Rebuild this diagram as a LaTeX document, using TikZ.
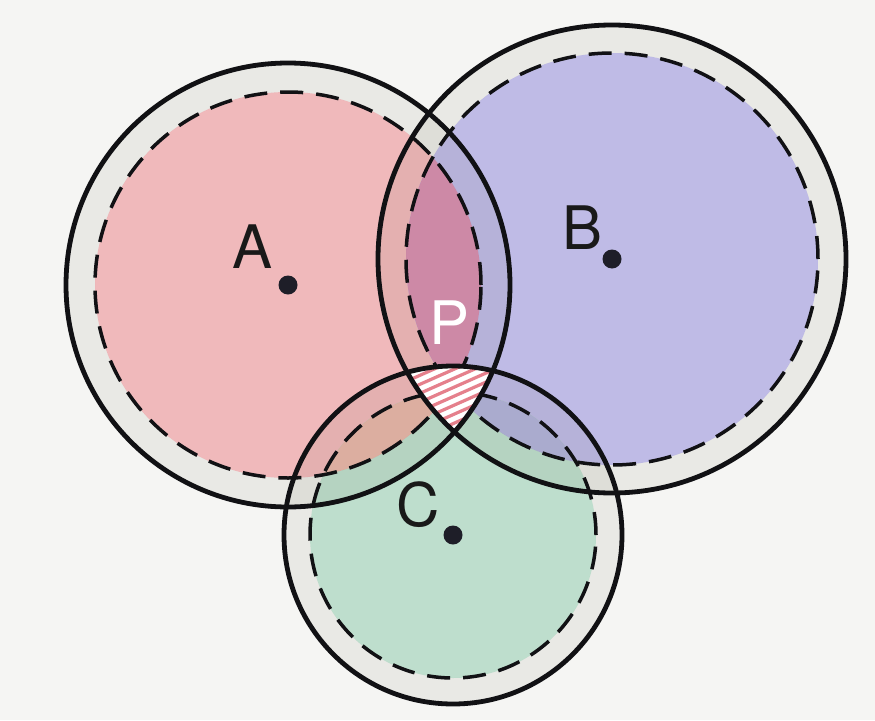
\documentclass[tikz,border=0pt]{standalone}
\usepackage{fontspec}
\setmainfont{TeX Gyre Heros}
\definecolor{bgc}{HTML}{F5F5F3}
\definecolor{ringc}{HTML}{F3F3F1}
\definecolor{fillA}{HTML}{F0B9BB}
\definecolor{fillB}{HTML}{BFBBE6}
\definecolor{fillC}{HTML}{BEDECD}
\definecolor{fillAB}{HTML}{CD89A6}
\definecolor{fillAC}{HTML}{DCAEA0}
\definecolor{fillBC}{HTML}{AAABCE}
\definecolor{hatchc}{HTML}{E5808C}
\definecolor{inkc}{HTML}{111114}
\definecolor{dotc}{HTML}{1E1E28}
\tikzset{
  outerline/.style={draw=inkc, line width=4.8pt},
  innerline/.style={draw=inkc, line width=3.5pt, dash pattern=on 23pt off 13pt},
  centredot/.style={circle, fill=dotc, inner sep=0pt, minimum size=19pt},
  bigletter/.style={inner sep=0pt, font=\fontsize{60}{60}\selectfont, text=black!90},
}
\begin{document}
\begin{tikzpicture}[x=1pt, y=-1pt]
\fill[bgc] (0,0) rectangle (875,720);
\useasboundingbox (0,0) rectangle (875,720);
\coordinate (cA) at (288,285);
\coordinate (cB) at (612,259);
\coordinate (cC) at (453,535);
% coloured interiors
\fill[fillA] (cA) circle[radius=193pt];
\fill[fillB] (cB) circle[radius=206pt];
\fill[fillC] (cC) circle[radius=143pt];
\begin{scope}
\clip (cA) circle[radius=193pt];
\fill[fillAB] (cB) circle[radius=206pt];
\fill[fillAC] (cC) circle[radius=143pt];
\end{scope}
\begin{scope}
\clip (cB) circle[radius=206pt];
\fill[fillBC] (cC) circle[radius=143pt];
\end{scope}
% rings (between outer and dashed circles)
\begin{scope}[blend mode=multiply]
\fill[ringc, even odd rule] (cA) circle[radius=222pt] (cA) circle[radius=193pt];
\fill[ringc, even odd rule] (cB) circle[radius=234pt] (cB) circle[radius=206pt];
\fill[ringc, even odd rule] (cC) circle[radius=169pt] (cC) circle[radius=143pt];
\end{scope}
% dashed circles
\draw[innerline] (cA) circle[radius=193pt];
\draw[innerline] (cB) circle[radius=206pt];
\draw[innerline] (cC) circle[radius=143pt];
% hatched common region
\begin{scope}
\clip (cA) circle[radius=222pt];
\clip (cB) circle[radius=234pt];
\clip (cC) circle[radius=169pt];
\fill[white] (380,340) rectangle (520,460);
\foreach \k in {0,...,30} {
  \draw[hatchc, line width=3.2pt] (380,{330+\k*9}) -- (520,{330+\k*9-62});
}
\end{scope}
% solid circles
\draw[outerline] (cA) circle[radius=222pt];
\draw[outerline] (cB) circle[radius=234pt];
\draw[outerline] (cC) circle[radius=169pt];
% centres and labels
\node[centredot] (A) at (cA) {};
\node[centredot] (B) at (cB) {};
\node[centredot] (C) at (cC) {};
\node[bigletter] (lA) at (253,247) {A};
\node[bigletter] (lB) at (583,228) {B};
\node[bigletter] (lC) at (418,505) {C};
\node[bigletter, text=white] (lP) at (450,323) {P};
\end{tikzpicture}
\end{document}
